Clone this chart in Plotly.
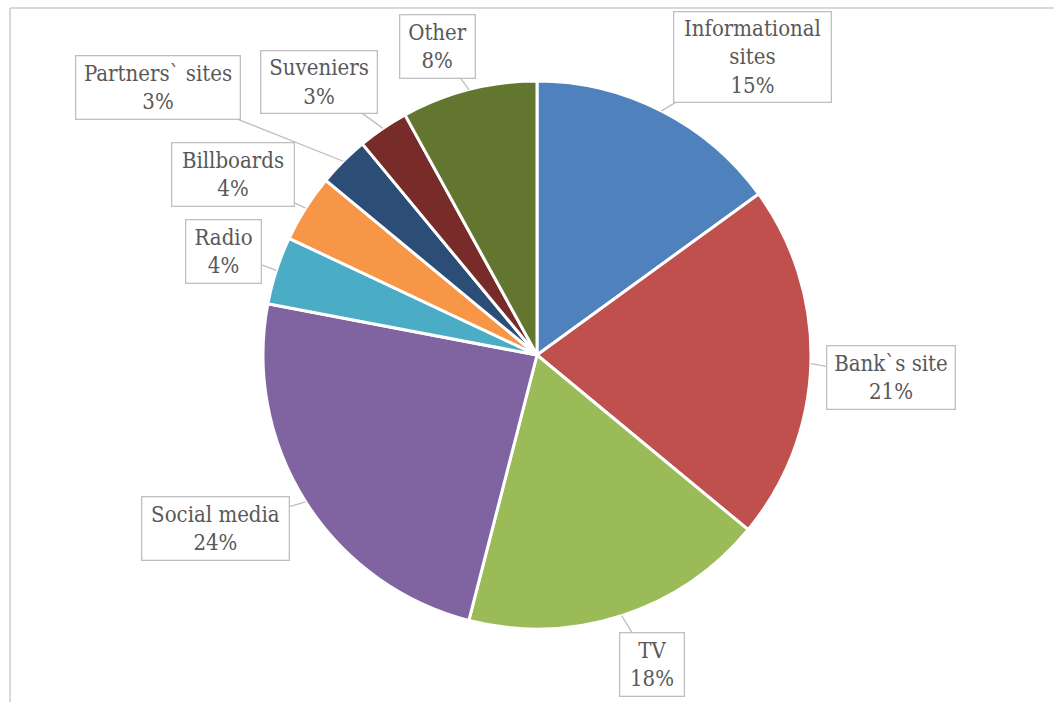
import math
import plotly.graph_objects as go

# Advertising channels and their shares (%)
channels = ["Informational<br>sites", "Bank`s site", "TV", "Social media", "Radio",
            "Billboards", "Partners` sites", "Suveniers", "Other"]
shares = [15, 21, 18, 24, 4, 4, 3, 3, 8]
colors = ["#4F81BD", "#C0504D", "#9BBB59", "#8064A2", "#4BACC6",
          "#F79646", "#2C4D75", "#772C2A", "#62762F"]

W, H = 1054, 702
CX, CY, R = 537, 355, 274          # pie centre and radius in pixels

# callout box centres (px) and box sizes (px)
box_centres = [(752.5, 57), (891, 377.5), (651.5, 664.5), (215.5, 528.5), (223.5, 251.5),
               (233, 174.5), (158, 87.5), (319, 82), (437.5, 46.5)]
box_sizes = [(159, 92), (130, 65), (66, 65), (149, 65), (77, 65),
             (124, 65), (166, 65), (118, 64), (77, 65)]

fig = go.Figure(go.Pie(
    labels=[c.replace("<br>", " ") for c in channels],
    values=shares,
    sort=False,
    direction="clockwise",
    rotation=0,
    marker=dict(colors=colors, line=dict(color="white", width=3)),
    textinfo="none",
    showlegend=False,
    domain=dict(x=[(CX - R) / W, (CX + R) / W], y=[1 - (CY + R) / H, 1 - (CY - R) / H]),
))

BW = 1.3
total = sum(shares)
cum = 0
annotations = []
for name, v, (bx, by), (bw, bh) in zip(channels, shares, box_centres, box_sizes):
    mid = (cum + v / 2) / total * 2 * math.pi
    cum += v
    tx = CX + R * math.sin(mid)
    ty = CY - R * math.cos(mid)
    annotations.append(dict(
        x=tx / W, y=1 - ty / H, xref="paper", yref="paper",
        text=f"{name}<br>{v}%",
        showarrow=True, arrowhead=0, arrowwidth=1.3, arrowcolor="#BFBFBF", standoff=0,
        ax=bx - tx, ay=by - ty,
        bgcolor="white", bordercolor="#BFBFBF", borderwidth=BW, borderpad=0,
        width=bw - 2 * BW, height=bh - 2 * BW,
        align="center", valign="middle",
        font=dict(family="DejaVu Serif Condensed, DejaVu Serif, serif", size=22, color="#595959"),
    ))

# chart area frame (top and left edges)
shapes = [
    dict(type="line", xref="paper", yref="paper", x0=10 / W, y0=1 - 8 / H, x1=1, y1=1 - 8 / H,
         line=dict(color="#D9D9D9", width=2)),
    dict(type="line", xref="paper", yref="paper", x0=10 / W, y0=1 - 8 / H, x1=10 / W, y1=0,
         line=dict(color="#D9D9D9", width=2)),
]

fig.update_layout(
    width=W, height=H,
    margin=dict(l=0, r=0, t=0, b=0),
    paper_bgcolor="white", plot_bgcolor="white",
    annotations=annotations, shapes=shapes,
)

fig.write_html("out.html")
